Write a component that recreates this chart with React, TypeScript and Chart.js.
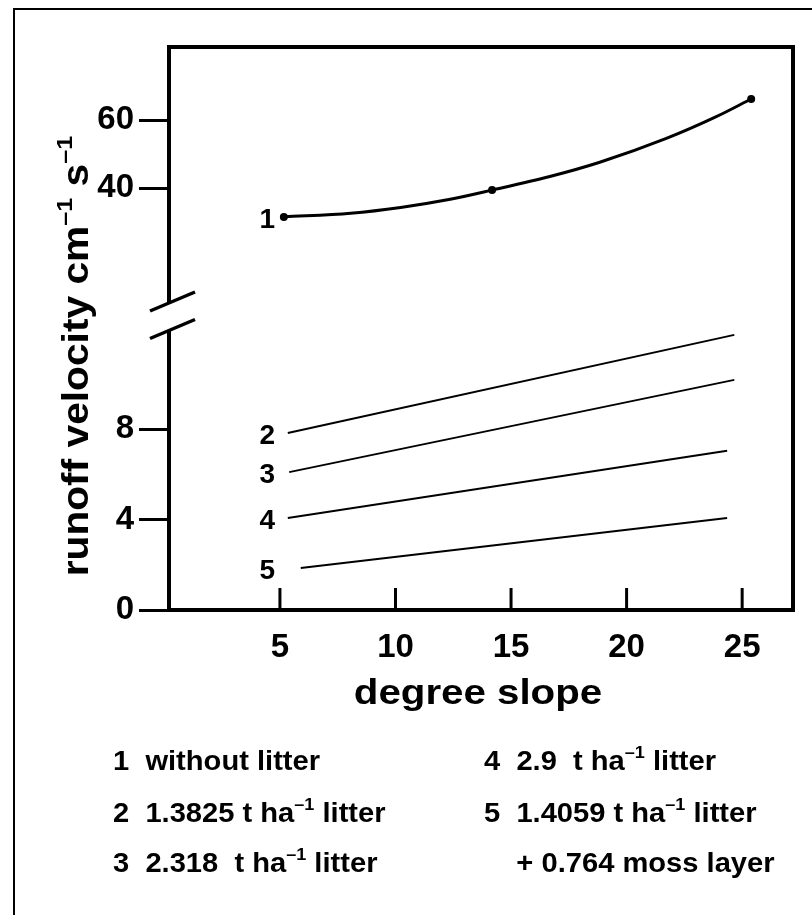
import { useEffect, useRef } from "react";
import { Chart, registerables } from "chart.js";
Chart.register(...registerables);

// ---- data ----
const slopeTicks = [5, 10, 15, 20, 25];
const upperTicks = [40, 60];
const lowerTicks = [0, 4, 8];

const s1x = [5.17, 8.06, 10.22, 12.37, 14.18, 16.68, 18.84, 21.72, 23.88, 25.39];
const s1y = [31.5, 32.6, 34.3, 36.7, 39.4, 43.4, 47.6, 54.6, 61.0, 66.2];
const s1dots = [0, 4, 9];

const s2x = [5.34, 24.66];
const s2y = [7.83, 12.17];
const s3x = [5.4, 24.66];
const s3y = [6.1, 10.18];
const s4x = [5.34, 24.35];
const s4y = [4.07, 7.04];
const s5x = [5.9, 24.35];
const s5y = [1.86, 4.07];

type Seg = { t: string; sup?: boolean };

const seriesNames = ["1", "2", "3", "4", "5"];
const xTitle = "degree slope";
const yTitle: Seg[] = [
  { t: "runoff velocity cm" },
  { t: "\u20131", sup: true },
  { t: " s" },
  { t: "\u20131", sup: true },
];
const legendLeft: Seg[][] = [
  [{ t: "1  without litter" }],
  [{ t: "2  1.3825 t ha" }, { t: "\u20131", sup: true }, { t: " litter" }],
  [{ t: "3  2.318  t ha" }, { t: "\u20131", sup: true }, { t: " litter" }],
];
const legendRight: Seg[][] = [
  [{ t: "4  2.9  t ha" }, { t: "\u20131", sup: true }, { t: " litter" }],
  [{ t: "5  1.4059 t ha" }, { t: "\u20131", sup: true }, { t: " litter" }],
  [{ t: "    + 0.764 moss layer" }],
];

const FONT = '"Liberation Sans", Arial, Helvetica, sans-serif';
const fnt = (s: number) => `bold ${s}px ${FONT}`;

function richWidth(ctx: CanvasRenderingContext2D, segs: Seg[], size: number) {
  let w = 0;
  for (const s of segs) {
    ctx.font = fnt(s.sup ? size * 0.62 : size);
    w += ctx.measureText(s.t).width;
  }
  return w;
}

function drawRich(
  ctx: CanvasRenderingContext2D,
  segs: Seg[],
  x: number,
  y: number,
  size: number,
  sx: number,
  align: "left" | "center",
  rotate = 0
) {
  ctx.save();
  ctx.translate(x, y);
  if (rotate) ctx.rotate(rotate);
  ctx.scale(sx, 1);
  ctx.fillStyle = "#000";
  ctx.textBaseline = "alphabetic";
  ctx.textAlign = "left";
  const w = richWidth(ctx, segs, size);
  let cx = align === "center" ? -w / 2 : 0;
  for (const s of segs) {
    ctx.font = fnt(s.sup ? size * 0.62 : size);
    ctx.fillText(s.t, cx, s.sup ? -size * 0.42 : 0);
    cx += ctx.measureText(s.t).width;
  }
  ctx.restore();
}

const pts = (xs: number[], ys: number[]) => xs.map((x, i) => ({ x, y: ys[i] }));

const decorPlugin = {
  id: "decor",
  beforeDraw(chart: any) {
    const ctx = chart.ctx as CanvasRenderingContext2D;
    ctx.save();
    ctx.fillStyle = "#fff";
    ctx.fillRect(0, 0, chart.width, chart.height);
    // outer frame (left and top)
    ctx.strokeStyle = "#000";
    ctx.lineWidth = 2;
    ctx.beginPath();
    ctx.moveTo(14, chart.height);
    ctx.lineTo(14, 9);
    ctx.lineTo(chart.width, 9);
    ctx.stroke();
    ctx.restore();
  },
  afterDraw(chart: any) {
    const ctx = chart.ctx as CanvasRenderingContext2D;
    const { left, right, top, bottom } = chart.chartArea;
    const yUp = chart.scales.yUp;
    const B = yUp.bottom;
    ctx.save();
    ctx.strokeStyle = "#000";
    ctx.lineCap = "butt";
    ctx.lineWidth = 4;
    // box with broken left axis
    ctx.beginPath();
    ctx.moveTo(left, B - 13);
    ctx.lineTo(left, top);
    ctx.lineTo(right, top);
    ctx.lineTo(right, bottom);
    ctx.lineTo(left, bottom);
    ctx.lineTo(left, B + 15);
    ctx.stroke();
    // break marks
    ctx.lineWidth = 3.5;
    for (const dy of [-13.5, 14]) {
      ctx.beginPath();
      ctx.moveTo(left - 19, B + dy + 9.5);
      ctx.lineTo(left + 26, B + dy - 9.5);
      ctx.stroke();
    }
    // inward x ticks
    const xs = chart.scales.x;
    ctx.lineWidth = 3;
    for (const t of xs.ticks) {
      const px = xs.getPixelForValue(t.value);
      ctx.beginPath();
      ctx.moveTo(px, bottom - 22);
      ctx.lineTo(px, bottom);
      ctx.stroke();
    }
    // series number labels
    ctx.fillStyle = "#000";
    ctx.font = fnt(28);
    ctx.textAlign = "center";
    ctx.textBaseline = "middle";
    chart.data.datasets.forEach((_: any, i: number) => {
      const meta = chart.getDatasetMeta(i);
      const p = meta.data[0];
      ctx.fillText(seriesNames[i], xs.getPixelForValue(4.45), p.y + 3);
    });
    // x title
    drawRich(ctx, [{ t: xTitle }], (left + right) / 2 - 3, 704, 35, 1.15, "center");
    // y title
    drawRich(ctx, yTitle, 88, 356, 37, 1.1, "center", -Math.PI / 2);
    // legend
    const rowsY = [770, 822, 872];
    legendLeft.forEach((segs, i) => drawRich(ctx, segs, 113, rowsY[i], 28, 1.04, "left"));
    legendRight.forEach((segs, i) => drawRich(ctx, segs, 484, rowsY[i], 28, 1.04, "left"));
    ctx.restore();
  },
};

export default function App() {
  const ref = useRef<HTMLCanvasElement>(null);
  useEffect(() => {
    const canvas = ref.current!;
    const tickFont = { family: FONT, size: 33, weight: "bold" as const };
    const lineDs = (xs: number[], ys: number[]) => ({
      data: pts(xs, ys),
      yAxisID: "yLo",
      borderColor: "#000",
      borderWidth: 2,
      pointRadius: 0,
      tension: 0,
    });
    const chart = new Chart(canvas, {
      type: "line",
      data: {
        datasets: [
          {
            data: pts(s1x, s1y),
            yAxisID: "yUp",
            borderColor: "#000",
            borderWidth: 3,
            pointRadius: (c: any) => (s1dots.includes(c.dataIndex) ? 4 : 0),
            pointBackgroundColor: "#000",
            pointBorderWidth: 0,
            cubicInterpolationMode: "monotone",
          },
          lineDs(s2x, s2y),
          lineDs(s3x, s3y),
          lineDs(s4x, s4y),
          lineDs(s5x, s5y),
        ] as any,
      },
      plugins: [decorPlugin],
      options: {
        responsive: false,
        animation: false,
        devicePixelRatio: 1,
        layout: { padding: { left: 0, top: 47, right: 19, bottom: 205 } },
        plugins: { legend: { display: false }, tooltip: { enabled: false } },
        scales: {
          x: {
            type: "linear",
            position: "bottom",
            min: 0.2,
            max: 27.2,
            afterBuildTicks: (s: any) => {
              s.ticks = slopeTicks.map((v) => ({ value: v }));
            },
            afterFit: (s: any) => {
              s.height = 100;
            },
            grid: { display: false, drawTicks: false },
            border: { display: false },
            ticks: { font: tickFont, color: "#000", padding: 18, maxRotation: 0, autoSkip: false },
          },
          yUp: {
            type: "linear",
            position: "left",
            stack: "v",
            stackWeight: 268,
            weight: 1,
            min: 2.65,
            max: 81.5,
            afterBuildTicks: (s: any) => {
              s.ticks = upperTicks.map((v) => ({ value: v }));
            },
            afterFit: (s: any) => {
              s.width = 169;
            },
            grid: { drawOnChartArea: false, drawTicks: true, tickLength: 30, tickWidth: 3, tickColor: "#000" },
            border: { display: false },
            ticks: { font: tickFont, color: "#000", padding: 5, autoSkip: false },
          },
          yLo: {
            type: "linear",
            position: "left",
            stack: "v",
            stackWeight: 295,
            weight: 0,
            min: 0,
            max: 13.05,
            afterBuildTicks: (s: any) => {
              s.ticks = lowerTicks.map((v) => ({ value: v }));
            },
            afterFit: (s: any) => {
              s.width = 169;
            },
            grid: { drawOnChartArea: false, drawTicks: true, tickLength: 30, tickWidth: 3, tickColor: "#000" },
            border: { display: false },
            ticks: { font: tickFont, color: "#000", padding: 5, autoSkip: false },
          },
        },
      } as any,
    });
    return () => chart.destroy();
  }, []);
  return (
    <div style={{ position: "fixed", left: 0, top: 0, width: 812, height: 915 }}>
      <canvas ref={ref} width={812} height={915} style={{ width: 812, height: 915, display: "block" }} />
    </div>
  );
}
